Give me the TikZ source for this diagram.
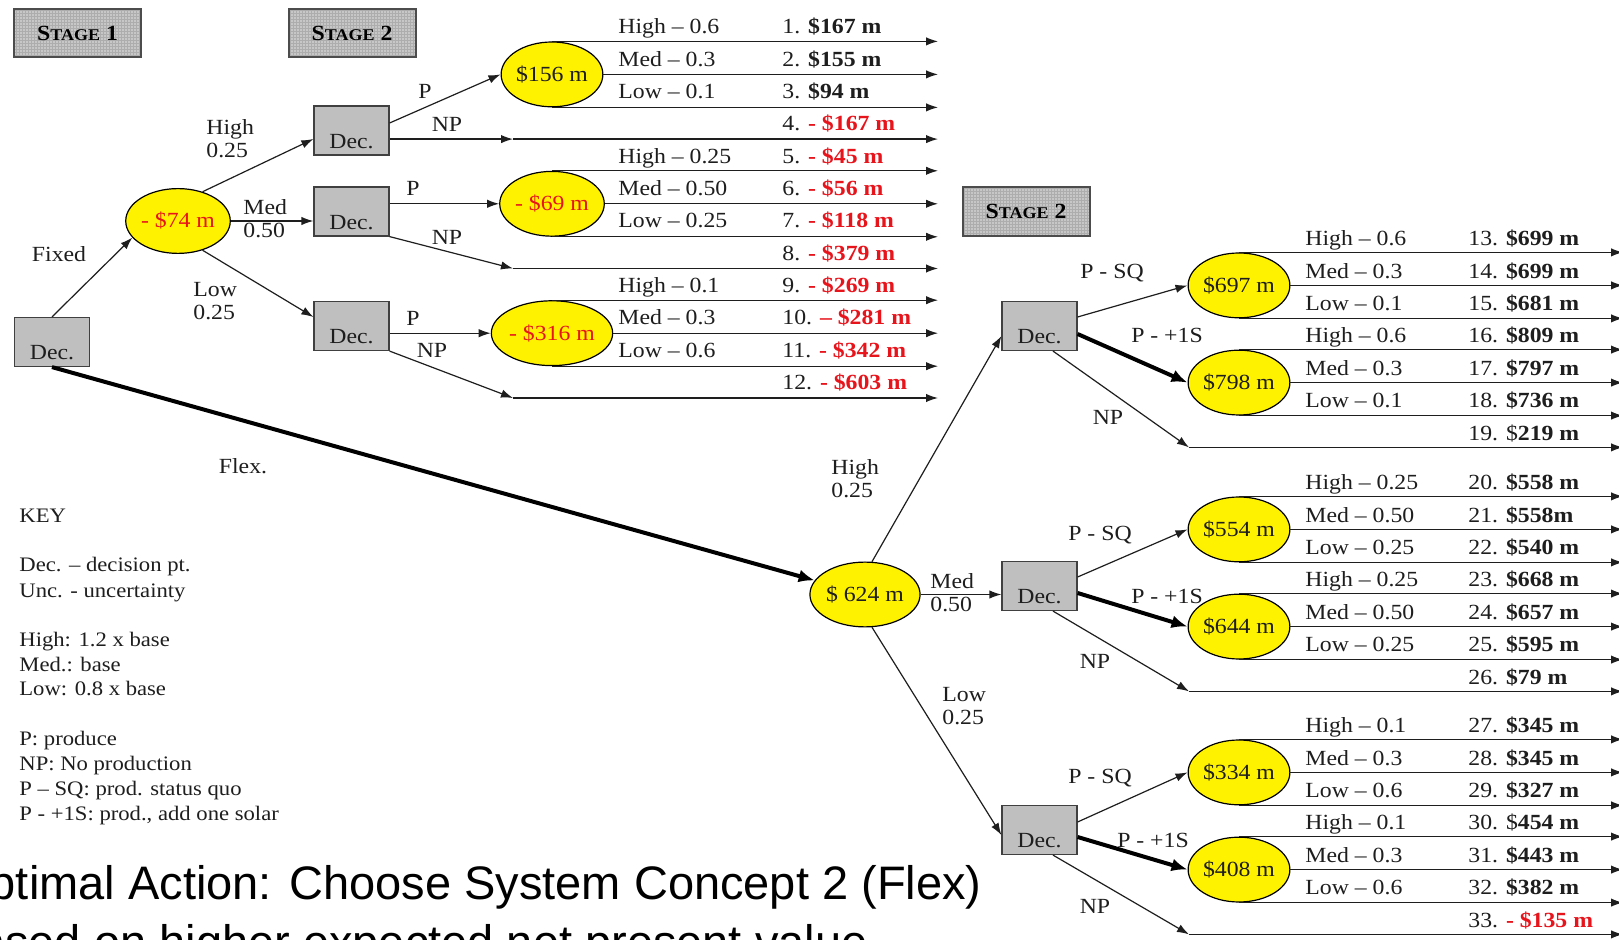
\documentclass[tikz,border=0pt]{standalone}
\usepackage{fontspec}
\setmainfont{Liberation Serif}[FakeStretch=1.1]
\newfontfamily\bigsans{Liberation Sans}
\usetikzlibrary{arrows.meta,shapes.geometric}
\definecolor{negred}{HTML}{E8141C}
\definecolor{inkc}{HTML}{1E1E1E}
\newcommand\vp[1]{\textbf{#1}}
\newcommand\vn[1]{\textcolor{negred}{\textbf{#1}}}
\newcommand\stg[1]{\textbf{{\fontsize{10.8}{12}\selectfont S}{\fontsize{8.2}{10}\selectfont TAGE} #1}}
\begin{document}
\begin{tikzpicture}[x=0.5pt,y=-0.5pt,
  font=\fontsize{10.8}{11.8}\selectfont,
  lbl/.style={inner sep=0pt, text height=1.5ex, text depth=.25ex, text=inkc},
  lblw/.style={lbl, anchor=west},
  keyt/.style={lblw, font=\fontsize{10.3}{11.3}\selectfont},
  twol/.style={inner sep=0pt, align=left, anchor=west, text=inkc, font=\fontsize{10.8}{11.5}\selectfont},
  dec/.style={draw=black!75, fill=black!25, line width=0.6pt, minimum width=37.5pt, minimum height=24.5pt, inner sep=0pt,
     label={[lbl, yshift=-6pt]center:Dec.}},
  unc/.style={ellipse, draw=black, fill=yellow, line width=0.6pt, minimum width=50pt, minimum height=32.4pt, inner sep=0pt, text=inkc},
  stagebox/.style={draw=black!70, line width=1pt, fill=black!22, minimum width=63.5pt, minimum height=24pt, inner sep=0pt,
     path picture={\draw[black!32, line width=0.2pt, step=1.5pt] (path picture bounding box.south west) grid (path picture bounding box.north east);}},
  arr/.style={line width=0.6pt, draw=inkc, -{Latex[length=6pt,width=4.2pt]}},
  thk/.style={line width=2pt, draw=black, -{Latex[length=8pt,width=6.5pt]}}
]
\useasboundingbox (0,0) rectangle (1619,940);
\fill[white] (0,0) rectangle (1619,940);
\clip (0,0) rectangle (1619,940);

% stage boxes
\node[stagebox] (st1) at (77.5,33) {\stg{1}};
\node[stagebox] (st2) at (352,33) {\stg{2}};
\node[stagebox, minimum height=24.5pt] (st3) at (1026,211.5) {\stg{2}};

% ---------- Fixed branch ----------
\node[dec] (root) at (52,342) {};
\node[unc] (e74) at (178,221) {\textcolor{negred}{- \$74 m}};
\node[dec] (decH) at (351.5,130.5) {};
\node[dec] (decM) at (351.5,211.5) {};
\node[dec] (decL) at (351.5,326) {};
\node[unc] (e156) at (552,74.4) {\$156 m};
\node[unc] (e69) at (552,203.8) {\textcolor{negred}{- \$69 m}};
\node[unc] (e316) at (552,333.2) {\textcolor{negred}{- \$316 m}};

\coordinate (TR) at (938,0);
\coordinate (np1) at (513,139.1);
\coordinate (np2) at (513,268.5);
\coordinate (np3) at (513,398);

\draw[arr] (root.north) -- (e74.200);
\draw[arr] (e74.50) -- ([yshift=-4.25pt]decH.west);
\draw[arr] (e74.east) -- (e74.east -| decM.west);
\draw[arr] (e74.-50) -- ([yshift=4.5pt]decL.west);
\draw[arr] ([yshift=3.75pt]decH.east) -- (e156.west);
\draw[arr] (decH.east |- np1) -- (np1);
\draw[arr] (decM.east |- e69.west) -- (e69.west);
\draw[arr] (decM.south east) -- (np2);
\draw[arr] (decL.east |- e316.west) -- (e316.west);
\draw[arr] (decL.south east) -- (np3);
\foreach \e in {e156,e69,e316} {
  \draw[arr] (\e.north) -- (\e.north -| TR);
  \draw[arr] (\e.east) -- (\e.east -| TR);
  \draw[arr] (\e.south) -- (\e.south -| TR);
}
\foreach \c in {np1,np2,np3} \draw[arr] (\c) -- (\c -| TR);

\node[lbl] (fx) at (59,256) {Fixed};
\node[twol] (bh1) at (206,138.5) {High\\0.25};
\node[twol] (bm1) at (243,219) {Med\\0.50};
\node[twol] (bl1) at (193,301) {Low\\0.25};
\node[lbl] (p1) at (425,93) {P};
\node[lbl] (n1) at (447,126) {NP};
\node[lbl] (p2) at (413,190) {P};
\node[lbl] (n2) at (447,239) {NP};
\node[lbl] (p3) at (413,320) {P};
\node[lbl] (n3) at (432,352) {NP};

\foreach \y/\t [count=\i] in {28/High – 0.6, 60.4/Med – 0.3, 92.7/Low – 0.1,
   157.4/High – 0.25, 189.8/Med – 0.50, 222.2/Low – 0.25,
   286.9/High – 0.1, 319.2/Med – 0.3, 351.6/Low – 0.6}
  \node[lblw] (pa\i) at (618,\y) {\t};
\foreach \y/\t [count=\i] in {28/1. \vp{\$167 m}, 60.4/2. \vp{\$155 m}, 92.7/3. \vp{\$94 m},
   125.1/4. \vn{- \$167 m}, 157.4/5. \vn{- \$45 m}, 189.8/6. \vn{- \$56 m},
   222.2/7. \vn{- \$118 m}, 254.5/8. \vn{- \$379 m}, 286.9/9. \vn{- \$269 m},
   319.2/10. \vn{– \$281 m}, 351.6/11. \vn{- \$342 m}, 384/12. \vn{- \$603 m}}
  \node[lblw] (va\i) at (782,\y) {\t};

% ---------- Flex branch ----------
\node[unc] (e624) at (865,594.5) {\$ 624 m};
\draw[thk] (root.south) -- (e624);
\node[lbl] (flx) at (243,468) {Flex.};

\node[dec] (dRH) at (1039.5,326) {};
\node[dec] (dRM) at (1039.5,586) {};
\node[dec] (dRL) at (1039.5,830) {};
\node[unc] (e697) at (1239,285.4) {\$697 m};
\node[unc] (e798) at (1239,382.6) {\$798 m};
\node[unc] (e554) at (1239,529.4) {\$554 m};
\node[unc] (e644) at (1239,626.6) {\$644 m};
\node[unc] (e334) at (1239,772.4) {\$334 m};
\node[unc] (e408) at (1239,869.6) {\$408 m};

\coordinate (TR2) at (1623,0);
\coordinate (npR1) at (1189,447.4);
\coordinate (npR2) at (1189,691.4);
\coordinate (npR3) at (1189,934.4);

\draw[arr] (e624.78) -- ([yshift=-5pt]dRH.west);
\draw[arr] (e624.east) -- (e624.east -| dRM.west);
\draw[arr] (e624.-78) -- ([yshift=-2.5pt]dRL.west);

\draw[arr] ([yshift=4.5pt]dRH.east) -- (e697.west);
\draw[thk] ([yshift=-4pt]dRH.east) -- (e798.west);
\draw[arr] ([xshift=6.75pt]dRH.south) -- (npR1);
\draw[arr] ([yshift=4.5pt]dRM.east) -- (e554.west);
\draw[thk] ([yshift=-3.5pt]dRM.east) -- (e644.west);
\draw[arr] ([xshift=6.75pt]dRM.south) -- (npR2);
\draw[arr] ([yshift=4pt]dRL.east) -- (e334.west);
\draw[thk] ([yshift=-3.5pt]dRL.east) -- (e408.west);
\draw[arr] ([xshift=6.75pt]dRL.south) -- (npR3);

\foreach \e in {e697,e798,e554,e644,e334,e408} {
  \draw[arr] (\e.north) -- (\e.north -| TR2);
  \draw[arr] (\e.east) -- (\e.east -| TR2);
  \draw[arr] (\e.south) -- (\e.south -| TR2);
}
\foreach \c in {npR1,npR2,npR3} \draw[arr] (\c) -- (\c -| TR2);

\node[twol] (bh2) at (831,479) {High\\0.25};
\node[twol] (bm2) at (930,592.5) {Med\\0.50};
\node[twol] (bl2) at (942,706) {Low\\0.25};

\node[lbl] (sq1) at (1112,273) {P - SQ};
\node[lbl] (os1) at (1167,337) {P - +1S};
\node[lbl] (nr1) at (1108,419) {NP};
\node[lbl] (sq2) at (1100,535) {P - SQ};
\node[lbl] (os2) at (1167,598) {P - +1S};
\node[lbl] (nr2) at (1095,663) {NP};
\node[lbl] (sq3) at (1100,778) {P - SQ};
\node[lbl] (os3) at (1153,842) {P - +1S};
\node[lbl] (nr3) at (1095,908) {NP};

\foreach \y/\t [count=\i] in {240/High – 0.6, 272.4/Med – 0.3, 304.8/Low – 0.1,
   337.2/High – 0.6, 369.6/Med – 0.3, 402/Low – 0.1,
   484/High – 0.25, 516.4/Med – 0.50, 548.8/Low – 0.25,
   581.2/High – 0.25, 613.6/Med – 0.50, 646/Low – 0.25,
   727/High – 0.1, 759.4/Med – 0.3, 791.8/Low – 0.6,
   824.2/High – 0.1, 856.6/Med – 0.3, 889/Low – 0.6}
  \node[lblw] (pb\i) at (1305,\y) {\t};
\foreach \y/\t [count=\i] in {240/13. \vp{\$699 m}, 272.4/14. \vp{\$699 m}, 304.8/15. \vp{\$681 m},
   337.2/16. \vp{\$809 m}, 369.6/17. \vp{\$797 m}, 402/18. \vp{\$736 m}, 434.4/19. \$\vp{219 m},
   484/20. \vp{\$558 m}, 516.4/21. \vp{\$558m}, 548.8/22. \vp{\$540 m},
   581.2/23. \vp{\$668 m}, 613.6/24. \vp{\$657 m}, 646/25. \vp{\$595 m}, 678.4/26. \vp{\$79 m},
   727/27. \vp{\$345 m}, 759.4/28. \vp{\$345 m}, 791.8/29. \vp{\$327 m},
   824.2/30. \$\vp{454 m}, 856.6/31. \vp{\$443 m}, 889/32. \vp{\$382 m}, 921.4/33. \vn{- \$135 m}}
  \node[lblw] (vb\i) at (1468,\y) {\t};

% ---------- Key ----------
\node[keyt] (k1) at (19,517) {KEY};
\node[keyt] (k2) at (19,566) {Dec. – decision pt.};
\node[keyt] (k3) at (19,592) {Unc. - uncertainty};
\node[keyt] (k4) at (19,641) {High: 1.2 x base};
\node[keyt] (k5) at (19,666) {Med.: base};
\node[keyt] (k6) at (19,690) {Low: 0.8 x base};
\node[keyt] (k7) at (19,740) {P: produce};
\node[keyt] (k8) at (19,765) {NP: No production};
\node[keyt] (k9) at (19,790) {P – SQ: prod. status quo};
\node[keyt] (k10) at (19,815) {P - +1S: prod., add one solar};

% ---------- Bottom text ----------
\node[anchor=base east, inner sep=0pt, font=\bigsans\fontsize{23.5}{28}\selectfont] (opt1) at (982,900) {Optimal Action: Choose System Concept 2 (Flex)};
\node[anchor=base east, inner sep=0pt, font=\bigsans\fontsize{23.5}{28}\selectfont] (opt2) at (868,959) {Based on higher expected net present value};
\end{tikzpicture}
\end{document}
